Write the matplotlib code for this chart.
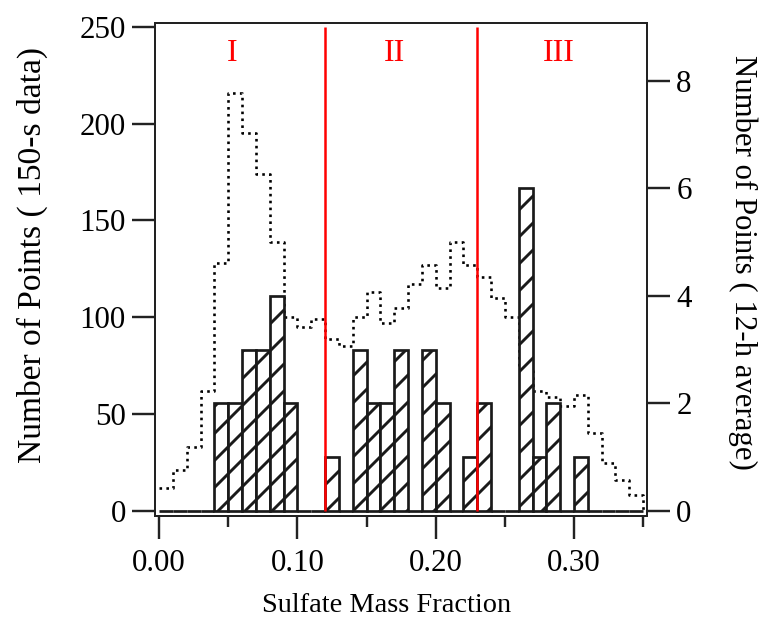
import numpy as np
import matplotlib
matplotlib.use("Agg")
import matplotlib.pyplot as plt

# bin edges of sulfate mass fraction (0.01 wide)
edges = np.round(np.arange(0, 0.351, 0.01), 2)

# 150-s data, left axis (dotted step line)
counts_150s = [12, 21, 33, 62, 128, 216, 195, 174, 139, 100,
               95, 99, 89, 85, 100, 113, 97, 105, 117, 127,
               115, 139, 127, 121, 110, 100, 74, 62, 59, 54,
               60, 40, 25, 16, 8]

# 12-h averages, right axis (hatched bars)
counts_12h = [0, 0, 0, 0, 2, 2, 3, 3, 4, 2,
              0, 0, 1, 0, 3, 2, 2, 3, 0, 3,
              2, 0, 1, 2, 0, 0, 6, 1, 2, 0,
              1, 0, 0, 0, 0]

regime_bounds = [0.12, 0.23]
regime_names = ["I", "II", "III"]
regime_x = [0.0525, 0.1705, 0.289]

# hatch tile follows the dpi, 162 gives ~27 px between '//' lines
DPI = 162
W, H = 766, 630


def pt(px):
    # pixel size -> points at the output dpi
    return px * 72 / DPI


plt.rcParams["font.family"] = ["Liberation Serif", "DejaVu Serif"]
plt.rcParams["hatch.linewidth"] = pt(2.9)
plt.rcParams["hatch.color"] = "#111111"

fig = plt.figure(figsize=(W / DPI, H / DPI), dpi=DPI)
ax1 = fig.add_axes([155 / W, 1 - 516 / H, (647.3 - 155) / W, (516 - 23.3) / H])
ax2 = ax1.twinx()

# dotted step line of 150-s data, dropping to zero at the right end
xs = np.append(edges, edges[-1])
ys = np.append(np.append(counts_150s, counts_150s[-1]), 0)
ax1.step(xs, ys, where="post", color="black", linestyle=":", linewidth=pt(2.6))

# hatched bars of 12-h averages
ax2.bar(edges[:-1], counts_12h, width=0.01, align="edge", color="white",
        edgecolor="#1a1a1a", linewidth=pt(2.7), hatch="//", zorder=2)

# regime separators
ratio = 250 / 9
ax2.vlines(regime_bounds, 0, 250 / ratio, color="#ff0000", linewidth=pt(2.5), zorder=3)
for name, x in zip(regime_names, regime_x):
    ax1.text(x, 236, name, color="#ff0000", fontsize=pt(32), ha="center", va="center")

lo, hi = -2.6, 251.8
ax1.set_xlim(-0.003, 0.353)
ax1.set_ylim(lo, hi)
ax2.set_ylim(lo / ratio, hi / ratio)

ax1.set_xticks([0.0, 0.1, 0.2, 0.3])
ax1.set_xticklabels(["0.00", "0.10", "0.20", "0.30"])
ax1.set_xticks([0.05, 0.15, 0.25, 0.35], minor=True)
ax1.set_yticks([0, 50, 100, 150, 200, 250])
ax2.set_yticks([0, 2, 4, 6, 8])

for ax in (ax1, ax2):
    for sp in ax.spines.values():
        sp.set_linewidth(pt(2))
        sp.set_color("#222222")
ax1.tick_params(axis="both", which="major", direction="out", length=pt(23), width=pt(2.4),
                labelsize=pt(31), color="#222222")
ax1.tick_params(axis="x", which="major", pad=pt(10))
ax1.tick_params(axis="y", which="major", pad=pt(6))
ax1.tick_params(axis="x", which="minor", direction="out", length=pt(11), width=pt(2.4),
                color="#222222")
ax2.tick_params(axis="y", direction="out", length=pt(23), width=pt(2.4), labelsize=pt(31),
                pad=pt(6), color="#222222")

ax1.set_xlabel("Sulfate Mass Fraction", fontsize=pt(28.4), va="center")
ax1.xaxis.set_label_coords(0.471, -0.181)
ax1.set_ylabel("Number of Points ( 150-s data)", fontsize=pt(33.5), va="center")
ax1.yaxis.set_label_coords(-0.25, 0.53)
ax2.set_ylabel("Number of Points ( 12-h average)", fontsize=pt(30.8), rotation=-90,
               va="center")
ax2.yaxis.set_label_coords(1.194, 0.515)

fig.savefig("out.png", dpi=DPI)
